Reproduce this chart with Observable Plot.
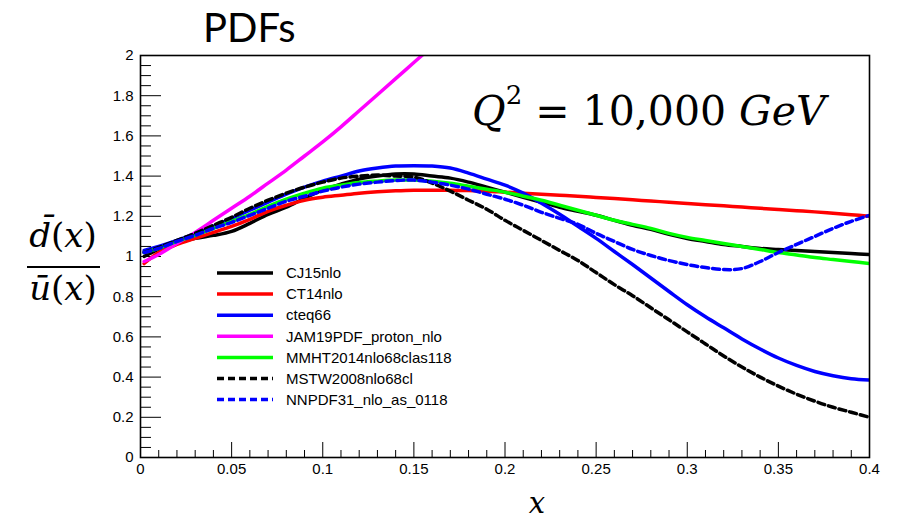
<!DOCTYPE html>
<html><head><meta charset="utf-8">
<script src="https://cdn.jsdelivr.net/npm/d3@7"></script>
<script src="https://cdn.jsdelivr.net/npm/@observablehq/plot@0.6"></script>
<style>
body{margin:0;background:#fff;}
#chart{width:897px;height:520px;overflow:hidden;}
</style></head><body>
<div id="chart"></div>
<script>
// ---- data ----
const xs = [0.002,0.01,0.02,0.03,0.04,0.05,0.06,0.07,0.08,0.09,0.10,0.11,0.12,0.13,0.14,0.15,0.16,0.17,0.18,0.19,0.20,0.21,0.22,0.23,0.24,0.25,0.26,0.27,0.28,0.29,0.30,0.31,0.32,0.33,0.34,0.35,0.36,0.37,0.38,0.39,0.40];
const cj15 = [1.00,1.035,1.065,1.09,1.105,1.125,1.165,1.21,1.245,1.29,1.33,1.36,1.385,1.40,1.41,1.41,1.40,1.39,1.37,1.345,1.32,1.295,1.27,1.245,1.225,1.205,1.18,1.155,1.135,1.11,1.09,1.075,1.06,1.05,1.04,1.035,1.03,1.025,1.02,1.015,1.01];
const ct14 = [0.965,1.02,1.06,1.09,1.12,1.15,1.185,1.225,1.255,1.28,1.295,1.305,1.315,1.322,1.327,1.33,1.33,1.33,1.328,1.325,1.32,1.315,1.31,1.305,1.30,1.294,1.288,1.282,1.276,1.27,1.264,1.258,1.252,1.246,1.24,1.234,1.228,1.222,1.215,1.208,1.20];
const cteq66 = [1.03,1.05,1.08,1.115,1.15,1.19,1.23,1.27,1.31,1.345,1.375,1.40,1.425,1.44,1.45,1.452,1.45,1.44,1.415,1.385,1.355,1.315,1.265,1.21,1.15,1.09,1.025,0.96,0.893,0.826,0.76,0.70,0.645,0.59,0.54,0.495,0.458,0.428,0.407,0.392,0.385];
const jam19 = [0.975,1.01,1.065,1.12,1.18,1.24,1.30,1.365,1.43,1.50,1.57,1.645,1.725,1.805,1.885,1.965,2.045];
const mmht = [1.02,1.04,1.075,1.105,1.14,1.175,1.21,1.25,1.285,1.315,1.34,1.355,1.368,1.375,1.38,1.38,1.375,1.365,1.35,1.335,1.32,1.30,1.28,1.255,1.23,1.205,1.18,1.16,1.14,1.115,1.095,1.08,1.065,1.05,1.035,1.02,1.008,0.995,0.985,0.975,0.965];
const mstw = [1.02,1.045,1.08,1.115,1.155,1.195,1.24,1.28,1.315,1.345,1.37,1.39,1.40,1.405,1.40,1.395,1.365,1.325,1.28,1.235,1.18,1.13,1.08,1.03,0.98,0.92,0.86,0.805,0.745,0.685,0.625,0.565,0.505,0.45,0.40,0.355,0.315,0.28,0.25,0.225,0.20];
const nnpdf = [1.02,1.04,1.075,1.105,1.14,1.17,1.205,1.24,1.275,1.30,1.325,1.345,1.36,1.37,1.378,1.38,1.37,1.355,1.335,1.31,1.285,1.255,1.22,1.19,1.16,1.115,1.075,1.035,1.005,0.98,0.96,0.945,0.935,0.94,0.975,1.02,1.06,1.10,1.14,1.175,1.205];

const seriesNames = ["CJ15nlo","CT14nlo","cteq66","JAM19PDF_proton_nlo","MMHT2014nlo68clas118","MSTW2008nlo68cl","NNPDF31_nlo_as_0118"];
const seriesValues = [cj15, ct14, cteq66, jam19, mmht, mstw, nnpdf];
const seriesColors = ["#000000","#ff0000","#0000ff","#ff00ff","#00ff00","#000000","#0000ff"];
const seriesDash = [null,null,null,null,null,"7,4","7,4"];

const yTicks = [0,0.2,0.4,0.6,0.8,1,1.2,1.4,1.6,1.8,2];
const yTickLabels = ["0","0.2","0.4","0.6","0.8","1","1.2","1.4","1.6","1.8","2"];
const xTicks = [0,0.05,0.1,0.15,0.2,0.25,0.3,0.35,0.4];
const xTickLabels = ["0","0.05","0.1","0.15","0.2","0.25","0.3","0.35","0.4"];

// ---- layout ----
const W = 897, H = 520, ML = 140, MR = 28, MT = 55, MB = 63;
const iw = W - ML - MR, ih = H - MT - MB;
const yMinor = d3.range(0, 2.0001, 0.05).filter(v => !yTicks.some(t => Math.abs(t - v) < 1e-6));
const xMinor = d3.range(0, 0.40001, 0.01).filter(v => !xTicks.some(t => Math.abs(t - v) < 1e-6));

const lineMarks = seriesNames.map((name, k) => {
  const rows = seriesValues[k].map((v, i) => ({x: xs[i], y: v, name}));
  return Plot.line(rows, {x: "x", y: "y", stroke: seriesColors[k], strokeWidth: 3.5,
    strokeDasharray: seriesDash[k] || undefined, curve: "catmull-rom", clip: true});
});

const plot = Plot.plot({
  width: W, height: H,
  marginLeft: ML, marginRight: MR, marginTop: MT, marginBottom: MB,
  style: {fontFamily: "'Liberation Sans', Arial, sans-serif", fontSize: "15px", color: "#000", background: "#fff"},
  x: {domain: [0, 0.4]},
  y: {domain: [0, 2]},
  marks: [
    Plot.ruleY(yMinor, {insetRight: iw - 11, stroke: "#000", strokeWidth: 1}),
    Plot.ruleY(yTicks, {insetRight: iw - 21, stroke: "#000", strokeWidth: 1}),
    Plot.ruleX(xMinor, {insetTop: ih - 7, stroke: "#000", strokeWidth: 1}),
    Plot.ruleX(xTicks, {insetTop: ih - 15, stroke: "#000", strokeWidth: 1}),
    ...lineMarks,
    Plot.frame({stroke: "#000", strokeWidth: 1.6}),
    Plot.axisY({ticks: yTicks, tickSize: 0, tickPadding: 7, tickFormat: (d, i) => yTickLabels[i], label: null, fontSize: 15}),
    Plot.axisX({ticks: xTicks, tickSize: 0, tickPadding: 6, tickFormat: (d, i) => xTickLabels[i], label: null, fontSize: 15})
  ]
});
document.getElementById("chart").appendChild(plot);

// ---- overlays: titles, axis labels, legend ----
const svg = d3.select(plot);
svg.append("text").attr("x", 203).attr("y", 42).attr("text-anchor", "start")
  .attr("font-family", "Lato, 'Open Sans', sans-serif").attr("font-size", 40).attr("fill", "#000").text("PDFs");

const q = svg.append("text").attr("x", 472).attr("y", 125).attr("text-anchor", "start")
  .attr("font-family", "'DejaVu Serif', serif").attr("font-size", 41).attr("fill", "#000")
  .style("white-space", "pre");
q.append("tspan").attr("font-style", "italic").text("Q");
q.append("tspan").attr("font-size", 26).attr("dy", -21).text("2");
q.append("tspan").attr("dy", 21).text(" = 10,000 ");
q.append("tspan").attr("font-style", "italic").text("GeV");

// y label fraction
const num = svg.append("text").attr("x", 63).attr("y", 247).attr("text-anchor", "middle")
  .attr("font-family", "'DejaVu Serif', serif").attr("font-size", 34).attr("fill", "#000");
num.append("tspan").attr("font-style", "italic").text("d\u0304");
num.append("tspan").text("(");
num.append("tspan").attr("font-style", "italic").text("x");
num.append("tspan").text(")");
svg.append("line").attr("x1", 27).attr("x2", 100).attr("y1", 267).attr("y2", 267)
  .attr("stroke", "#000").attr("stroke-width", 2);
const den = svg.append("text").attr("x", 63).attr("y", 300).attr("text-anchor", "middle")
  .attr("font-family", "'DejaVu Serif', serif").attr("font-size", 34).attr("fill", "#000");
den.append("tspan").attr("font-style", "italic").text("\u016B");
den.append("tspan").text("(");
den.append("tspan").attr("font-style", "italic").text("x");
den.append("tspan").text(")");

// x label
svg.append("text").attr("x", 537).attr("y", 513).attr("text-anchor", "middle")
  .attr("font-family", "'DejaVu Serif', serif").attr("font-style", "italic").attr("font-size", 29)
  .attr("fill", "#000").text("x");

// legend
const lg = svg.append("g");
seriesNames.forEach((name, k) => {
  const y = 273 + k * 21.1;
  lg.append("line").attr("x1", 217).attr("x2", 273).attr("y1", y).attr("y2", y)
    .attr("stroke", seriesColors[k]).attr("stroke-width", 3.5)
    .attr("stroke-dasharray", seriesDash[k] || null);
  lg.append("text").attr("x", 286).attr("y", y).attr("dy", "0.35em").attr("text-anchor", "start")
    .attr("font-family", "'Liberation Sans', Arial, sans-serif").attr("font-size", 15)
    .attr("fill", "#000").text(name);
});
</script>
</body></html>
